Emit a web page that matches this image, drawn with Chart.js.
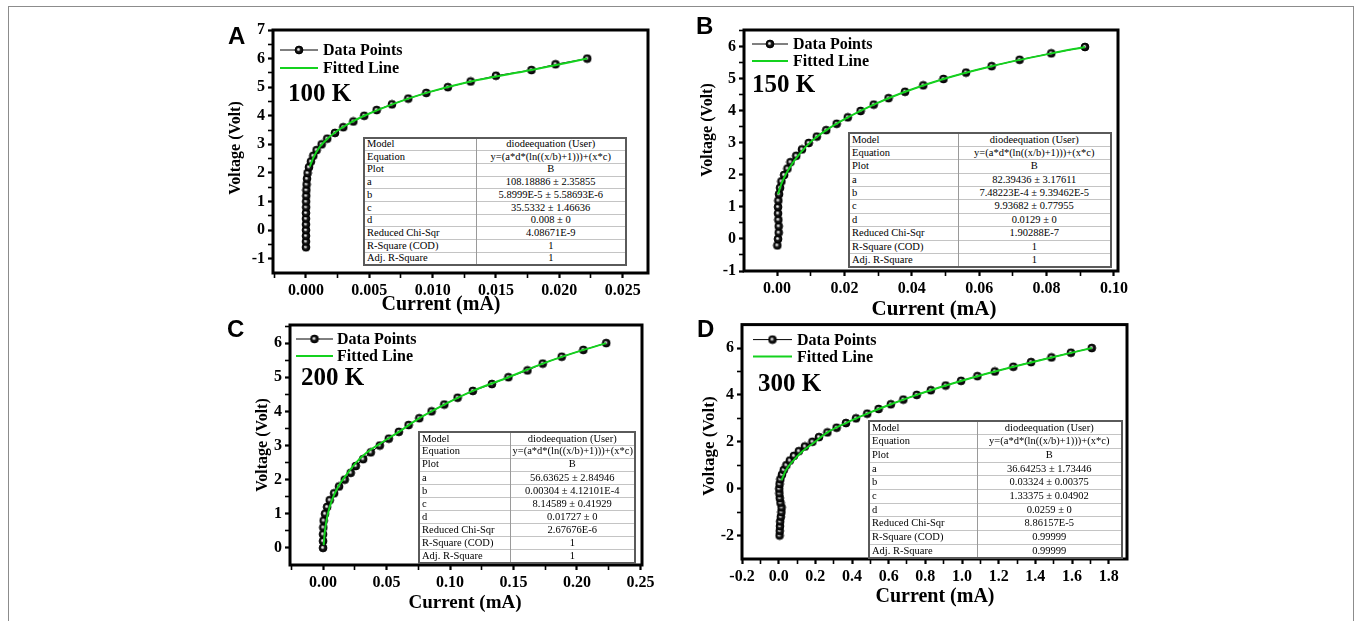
<!DOCTYPE html>
<html lang="en">
<head>
<meta charset="UTF-8">
<title>Diode equation fits</title>
<script src="https://cdn.jsdelivr.net/npm/chart.js"></script>
<style>
  body { margin:0; background:#fff; width:1356px; height:621px; overflow:hidden; position:relative; font-family:"Liberation Serif", serif; }
  #frame { position:absolute; left:8px; top:6px; width:1344px; height:700px; border:1px solid #8c8c8c; }
  canvas { position:absolute; }
  .letter { position:absolute; font:bold 24px "Liberation Sans", Arial, sans-serif; line-height:1; transform:translateY(-50%); }
  .title { position:absolute; font-weight:bold; white-space:nowrap; line-height:1; transform:translate(-50%,-50%); }
  .title.v { transform:translate(-50%,-50%) rotate(-90deg); }
  table.fit { position:absolute; border-collapse:collapse; background:#fff; border:2px solid #5a5a5a; table-layout:fixed; font-size:10.5px; }
  table.fit td { border-top:1px solid #c4c4c4; padding:0 2px; white-space:nowrap; overflow:hidden; line-height:1; }
  table.fit td:first-child { text-align:left; border-right:1px solid #9a9a9a; }
  table.fit td:last-child { text-align:center; }
</style>
</head>
<body>
<div id="frame"></div>

<script>
// ---------- data ----------
// A: 100 K
const voltsA = [-0.6,-0.4,-0.2,0,0.2,0.4,0.6,0.8,1.0,1.2,1.4,1.6,1.8,2.0,2.2,2.4,2.6,2.8,3.0,3.2,3.4,3.6,3.8,4.0,4.2,4.4,4.6,4.8,5.0,5.2,5.4,5.6,5.8,6.0];
const currentA = [0,0,0,0,0,0,0,0.00001,0.00001,0.00002,0.00003,0.00005,0.00008,0.00013,0.00024,0.00039,0.00058,0.00084,0.00124,0.00168,0.00229,0.00295,0.00374,0.0046,0.00558,0.00679,0.00808,0.0095,0.0112,0.013,0.015,0.0178,0.0197,0.0222];
const fitXA = [0.0003,0.0006,0.0011,0.0017,0.0024,0.0037,0.0046,0.0068,0.0095,0.013,0.0178,0.0222];
const fitYA = [2.22,2.55,2.92,3.2,3.45,3.8,4.0,4.4,4.8,5.2,5.6,6.0];
const xTicksA = ['0.000','0.005','0.010','0.015','0.020','0.025'];
const yTicksA = ['-1','0','1','2','3','4','5','6','7'];

// B: 150 K
const voltsB = [-0.2,0,0.2,0.4,0.6,0.8,1.0,1.2,1.4,1.6,1.8,2.0,2.2,2.4,2.6,2.8,3.0,3.2,3.4,3.6,3.8,4.0,4.2,4.4,4.6,4.8,5.0,5.2,5.4,5.6,5.8,6.0];
const currentB = [0.0001,0.0003,0.0005,0.0005,0.0004,0.0003,0.0003,0.0004,0.0006,0.0009,0.0013,0.0021,0.0031,0.004,0.0057,0.0074,0.0094,0.0118,0.0146,0.0177,0.021,0.0248,0.0287,0.0331,0.038,0.0434,0.0494,0.0561,0.0637,0.072,0.0814,0.0914];
const fitXB = [0.0003,0.0012,0.0025,0.0045,0.007,0.0102,0.0146,0.021,0.0287,0.038,0.0494,0.0637,0.0814,0.0914];
const fitYB = [1.4,1.7,2.0,2.35,2.7,3.05,3.4,3.8,4.2,4.6,5.0,5.4,5.8,6.0];
const xTicksB = ['0.00','0.02','0.04','0.06','0.08','0.10'];
const yTicksB = ['-1','0','1','2','3','4','5','6'];

// C: 200 K
const voltsC = [0,0.2,0.4,0.6,0.8,1.0,1.2,1.4,1.6,1.8,2.0,2.2,2.4,2.6,2.8,3.0,3.2,3.4,3.6,3.8,4.0,4.2,4.4,4.6,4.8,5.0,5.2,5.4,5.6,5.8,6.0];
const currentC = [0,0,0,0.0002,0.0005,0.0016,0.0032,0.0053,0.0087,0.0126,0.0171,0.0218,0.0258,0.0316,0.0376,0.0447,0.0518,0.0597,0.0674,0.0758,0.0855,0.0955,0.106,0.118,0.133,0.146,0.161,0.173,0.188,0.205,0.223];
const fitXC = [0.0005,0.0015,0.0035,0.007,0.012,0.0185,0.026,0.0347,0.0447,0.0597,0.0758,0.0955,0.118,0.146,0.173,0.205,0.223];
const fitYC = [0.08,0.5,0.95,1.4,1.8,2.15,2.5,2.8,3.05,3.4,3.8,4.2,4.6,5.0,5.4,5.8,6.0];
const xTicksC = ['0.00','0.05','0.10','0.15','0.20','0.25'];
const yTicksC = ['0','1','2','3','4','5','6'];

// D: 300 K
const voltsD = [-2.0,-1.8,-1.6,-1.4,-1.2,-1.0,-0.8,-0.6,-0.4,-0.2,0,0.2,0.4,0.6,0.8,1.0,1.2,1.4,1.6,1.8,2.0,2.2,2.4,2.6,2.8,3.0,3.2,3.4,3.6,3.8,4.0,4.2,4.4,4.6,4.8,5.0,5.2,5.4,5.6,5.8,6.0];
const currentD = [0.005,0.006,0.007,0.008,0.012,0.015,0.016,0.01,0.006,0.004,0.003,0.005,0.009,0.018,0.028,0.042,0.061,0.083,0.11,0.143,0.184,0.22,0.266,0.316,0.367,0.422,0.483,0.545,0.612,0.68,0.753,0.83,0.911,0.995,1.084,1.179,1.28,1.377,1.488,1.594,1.708];
const fitXD = [0.015,0.04,0.08,0.13,0.19,0.266,0.367,0.483,0.612,0.753,0.911,1.084,1.28,1.488,1.708];
const fitYD = [0.35,0.8,1.2,1.6,1.95,2.4,2.8,3.2,3.6,4.0,4.4,4.8,5.2,5.6,6.0];
const xTicksD = ['-0.2','0.0','0.2','0.4','0.6','0.8','1.0','1.2','1.4','1.6','1.8'];
const yTicksD = ['-2','0','2','4','6'];

// fit report tables
const rowNames = ['Model','Equation','Plot','a','b','c','d','Reduced Chi-Sqr','R-Square (COD)','Adj. R-Square'];
const tableA = ['diodeequation (User)','y=(a*d*(ln((x/b)+1)))+(x*c)','B','108.18886 ± 2.35855','5.8999E-5 ± 5.58693E-6','35.5332 ± 1.46636','0.008 ± 0','4.08671E-9','1','1'];
const tableB = ['diodeequation (User)','y=(a*d*(ln((x/b)+1)))+(x*c)','B','82.39436 ± 3.17611','7.48223E-4 ± 9.39462E-5','9.93682 ± 0.77955','0.0129 ± 0','1.90288E-7','1','1'];
const tableC = ['diodeequation (User)','y=(a*d*(ln((x/b)+1)))+(x*c)','B','56.63625 ± 2.84946','0.00304 ± 4.12101E-4','8.14589 ± 0.41929','0.01727 ± 0','2.67676E-6','1','1'];
const tableD = ['diodeequation (User)','y=(a*d*(ln((x/b)+1)))+(x*c)','B','36.64253 ± 1.73446','0.03324 ± 0.00375','1.33375 ± 0.04902','0.0259 ± 0','8.86157E-5','0.99999','0.99999'];

// ---------- panels (layout only) ----------
const panels = [
  { letter:'A', temp:'100 K', volts:voltsA, current:currentA, fitX:fitXA, fitY:fitYA, xTicks:xTicksA, yTicks:yTicksA, table:tableA,
    xMin:-0.0026, xMax:0.027, yMin:-1.5, yMax:7,
    canvas:{l:215,t:12,w:455,h:300}, area:{l:273,t:30,r:648,b:273},
    leg:{y1:20,y2:38,x0:7,x1:45,tx:50}, tempAt:{x:15,y:64},
    tab:{l:363,t:137,w:264,h:127,c1:112}, letterAt:[228,36], yTitle:[235,148,16], xTitle:[441,303,20] },
  { letter:'B', temp:'150 K', volts:voltsB, current:currentB, fitX:fitXB, fitY:fitYB, xTicks:xTicksB, yTicks:yTicksB, table:tableB,
    xMin:-0.0098, xMax:0.1012, yMin:-1, yMax:6.53,
    canvas:{l:690,t:12,w:460,h:300}, area:{l:744,t:30,r:1118,b:271},
    leg:{y1:14,y2:31,x0:8,x1:44,tx:49}, tempAt:{x:8,y:55},
    tab:{l:848,t:132,w:264,h:134,c1:109}, letterAt:[696,26], yTitle:[707,130,16], xTitle:[934,308,21] },
  { letter:'C', temp:'200 K', volts:voltsC, current:currentC, fitX:fitXC, fitY:fitYC, xTicks:xTicksC, yTicks:yTicksC, table:tableC,
    xMin:-0.026, xMax:0.2512, yMin:-0.5, yMax:6.53,
    canvas:{l:215,t:312,w:455,h:300}, area:{l:290,t:325,r:642,b:565},
    leg:{y1:14,y2:31,x0:6,x1:43,tx:47}, tempAt:{x:11,y:53},
    tab:{l:418,t:431,w:218,h:131,c1:91}, letterAt:[227,329], yTitle:[262,445,16], xTitle:[465,601,19] },
  { letter:'D', temp:'300 K', volts:voltsD, current:currentD, fitX:fitXD, fitY:fitYD, xTicks:xTicksD, yTicks:yTicksD, table:tableD,
    xMin:-0.2, xMax:1.9, yMin:-3, yMax:7,
    canvas:{l:690,t:312,w:460,h:300}, area:{l:742,t:324,r:1127,b:559},
    leg:{y1:15,y2:32,x0:11,x1:50,tx:55}, tempAt:{x:16,y:59},
    tab:{l:868,t:420,w:255,h:137,c1:108}, letterAt:[697,329], yTitle:[708,446,17], xTitle:[935,595,20] }
];

const GREEN = '#14d21e';
const SERIF = '"Liberation Serif", "Times New Roman", serif';

// shaded ball marker like the Origin sphere symbol
function sphere(r) {
  const c = document.createElement('canvas');
  const s = Math.ceil(r * 2 + 2);
  c.width = c.height = s;
  const g = c.getContext('2d');
  const m = s / 2;
  const grad = g.createRadialGradient(m - r * 0.2, m - r * 0.2, 0, m, m, r);
  grad.addColorStop(0, '#ffffff');
  grad.addColorStop(0.25, '#bdbdbd');
  grad.addColorStop(0.5, '#1c1c1c');
  grad.addColorStop(1, '#000000');
  g.fillStyle = grad;
  g.beginPath();
  g.arc(m, m, r, 0, Math.PI * 2);
  g.fill();
  g.strokeStyle = '#000';
  g.lineWidth = 1;
  g.stroke();
  return c;
}
const ball = sphere(3.9);

// major ticks from the labels, one minor tick half way between
function tickList(labels, min, max) {
  const vals = labels.map(parseFloat);
  const step = vals[1] - vals[0];
  const out = vals.map(v => ({ value: v }));
  for (let i = -1; i < vals.length; i++) {
    const m = vals[0] + (i + 0.5) * step;
    if (m > min + step * 0.01 && m < max - step * 0.01) out.push({ value: m });
  }
  return out.sort((a, b) => a.value - b.value);
}

function labelFor(labels) {
  const vals = labels.map(parseFloat);
  return value => {
    const i = vals.findIndex(v => Math.abs(v - value) < 1e-9);
    return i >= 0 ? labels[i] : '';
  };
}

function isMajor(labels, value) {
  return labels.map(parseFloat).some(v => Math.abs(v - value) < 1e-9);
}

const deco = {
  id: 'deco',
  afterDraw(chart, args, o) {
    const { ctx, chartArea: a } = chart;
    ctx.save();
    // thick frame
    ctx.strokeStyle = '#000';
    ctx.lineWidth = 3;
    ctx.strokeRect(a.left, a.top, a.right - a.left, a.bottom - a.top);

    // legend
    const L = o.leg;
    const ds = chart.data.datasets;
    const pts = ds.find(d => d.label === 'Data Points');
    const fit = ds.find(d => d.label === 'Fitted Line');
    const y1 = a.top + L.y1, y2 = a.top + L.y2;
    const x0 = a.left + L.x0, x1 = a.left + L.x1;
    ctx.lineWidth = 1;
    ctx.strokeStyle = '#000';
    ctx.beginPath(); ctx.moveTo(x0, y1); ctx.lineTo(x1, y1); ctx.stroke();
    ctx.drawImage(ball, (x0 + x1) / 2 - ball.width / 2, y1 - ball.height / 2);
    ctx.lineWidth = 2;
    ctx.strokeStyle = GREEN;
    ctx.beginPath(); ctx.moveTo(x0, y2); ctx.lineTo(x1, y2); ctx.stroke();
    ctx.fillStyle = '#000';
    ctx.font = 'bold 16px ' + SERIF;
    ctx.textBaseline = 'middle';
    ctx.textAlign = 'left';
    ctx.fillText(pts.label, a.left + L.tx, y1 + 1);
    ctx.fillText(fit.label, a.left + L.tx, y2 + 1);

    // temperature
    ctx.font = 'bold 25px ' + SERIF;
    ctx.fillText(o.temp, a.left + o.tempAt.x, a.top + o.tempAt.y + 1);
    ctx.restore();
  }
};

function axisFont() {
  return { family: SERIF, weight: 'bold', size: 16 };
}

panels.forEach(p => {
  const c = p.canvas, ar = p.area;
  const cv = document.createElement('canvas');
  cv.width = c.w; cv.height = c.h;
  cv.style.left = c.l + 'px'; cv.style.top = c.t + 'px';
  document.body.appendChild(cv);

  const yAxisW = ar.l - c.l;
  const xAxisH = (c.t + c.h) - ar.b;

  new Chart(cv.getContext('2d'), {
    type: 'line',
    data: {
      datasets: [
        {
          label: 'Fitted Line',
          data: p.fitX.map((x, i) => ({ x, y: p.fitY[i] })),
          borderColor: GREEN,
          borderWidth: 2,
          pointRadius: 0,
          cubicInterpolationMode: 'monotone',
          order: 1
        },
        {
          label: 'Data Points',
          data: p.current.map((x, i) => ({ x, y: p.volts[i] })),
          borderColor: '#000',
          borderWidth: 1,
          pointStyle: ball,
          pointRadius: 3.9,
          tension: 0,
          order: 2
        }
      ]
    },
    options: {
      responsive: false,
      animation: false,
      devicePixelRatio: 1,
      events: [],
      layout: { padding: { top: ar.t - c.t, right: (c.l + c.w) - ar.r, left: 0, bottom: 0 } },
      plugins: {
        legend: { display: false },
        tooltip: { enabled: false },
        deco: { leg: p.leg, temp: p.temp, tempAt: p.tempAt }
      },
      scales: {
        x: {
          type: 'linear',
          min: p.xMin, max: p.xMax,
          afterBuildTicks: s => { s.ticks = tickList(p.xTicks, p.xMin, p.xMax); },
          afterFit: s => { s.height = xAxisH; },
          ticks: { callback: labelFor(p.xTicks), font: axisFont(), color: '#000', maxRotation: 0, autoSkip: false, padding: 3 },
          grid: { drawOnChartArea: false, drawTicks: true, tickLength: 5, tickColor: '#000',
                  tickWidth: ctx => isMajor(p.xTicks, ctx.tick.value) ? 2.2 : 1.6 },
          border: { display: false }
        },
        y: {
          type: 'linear',
          min: p.yMin, max: p.yMax,
          afterBuildTicks: s => { s.ticks = tickList(p.yTicks, p.yMin, p.yMax); },
          afterFit: s => { s.width = yAxisW; },
          ticks: { callback: labelFor(p.yTicks), font: axisFont(), color: '#000', autoSkip: false, padding: 3 },
          grid: { drawOnChartArea: false, drawTicks: true, tickLength: 5, tickColor: '#000',
                  tickWidth: ctx => isMajor(p.yTicks, ctx.tick.value) ? 2.2 : 1.6 },
          border: { display: false }
        }
      }
    },
    plugins: [deco]
  });

  // panel letter and axis titles
  const letter = document.createElement('div');
  letter.className = 'letter';
  letter.textContent = p.letter;
  letter.style.left = p.letterAt[0] + 'px';
  letter.style.top = p.letterAt[1] + 'px';
  document.body.appendChild(letter);

  const yt = document.createElement('div');
  yt.className = 'title v';
  yt.textContent = 'Voltage (Volt)';
  yt.style.left = p.yTitle[0] + 'px';
  yt.style.top = p.yTitle[1] + 'px';
  yt.style.fontSize = p.yTitle[2] + 'px';
  document.body.appendChild(yt);

  const xt = document.createElement('div');
  xt.className = 'title';
  xt.textContent = 'Current (mA)';
  xt.style.left = p.xTitle[0] + 'px';
  xt.style.top = p.xTitle[1] + 'px';
  xt.style.fontSize = p.xTitle[2] + 'px';
  document.body.appendChild(xt);

  // fit report table over the plot
  const t = p.tab;
  const tbl = document.createElement('table');
  tbl.className = 'fit';
  tbl.style.left = t.l + 'px';
  tbl.style.top = t.t + 'px';
  tbl.style.width = t.w + 'px';
  const rowH = t.h / rowNames.length;
  const cg = document.createElement('colgroup');
  cg.innerHTML = '<col style="width:' + t.c1 + 'px"><col>';
  tbl.appendChild(cg);
  rowNames.forEach((name, i) => {
    const tr = document.createElement('tr');
    tr.style.height = rowH + 'px';
    const td1 = document.createElement('td');
    td1.textContent = name;
    const td2 = document.createElement('td');
    td2.textContent = p.table[i];
    tr.appendChild(td1);
    tr.appendChild(td2);
    tbl.appendChild(tr);
  });
  document.body.appendChild(tbl);
});
</script>
</body>
</html>
